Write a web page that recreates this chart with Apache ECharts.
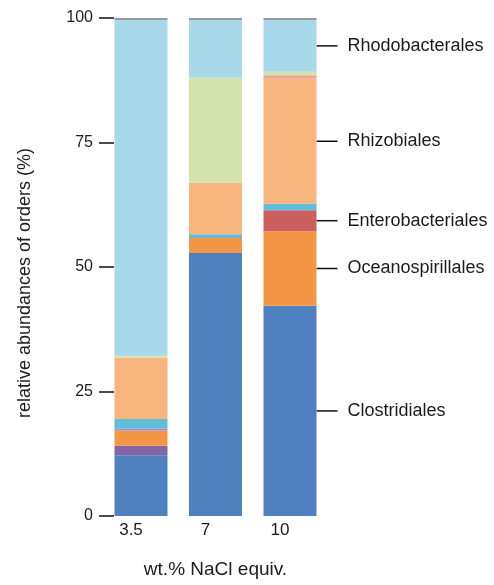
<!DOCTYPE html>
<html>
<head>
<meta charset="utf-8">
<script src="https://cdn.jsdelivr.net/npm/echarts@6/dist/echarts.min.js"></script>
<style>
  html, body { margin: 0; padding: 0; background: #ffffff; }
  #chart { width: 494px; height: 585px; }
</style>
</head>
<body>
<div id="chart"></div>
<script>
// Salinity groups (wt.% NaCl equiv.)
const salinity = ['3.5', '7', '10'];
const yTickValues = [0, 25, 50, 75, 100];

// Relative abundances (%) of bacterial orders, stacked bottom to top
const clostridiales     = [12.2, 52.8, 42.2];
const minorPurple       = [1.9, 0, 0];
const oceanospirillales = [3.0, 3.0, 15.0];
const enterobacteriales = [0, 0, 4.2];
const minorLavender     = [0.4, 0, 0];
const minorCyan         = [2.0, 0.8, 1.3];
const rhizobiales       = [12.3, 10.3, 25.1];
const minorSalmon       = [0, 0, 0.7];
const minorGreen        = [0.4, 21.1, 0.7];
const rhodobacterales   = [67.4, 11.6, 10.4];
const minorGrey         = [0.4, 0.4, 0.4];

const stackDefs = [
  { name: 'Clostridiales',     data: clostridiales,     color: '#4f80c0', labelled: true },
  { name: 'minor-1',           data: minorPurple,       color: '#8465a8', labelled: false },
  { name: 'Oceanospirillales', data: oceanospirillales, color: '#f59646', labelled: true },
  { name: 'Enterobacteriales', data: enterobacteriales, color: '#cb5e5e', labelled: true },
  { name: 'minor-2',           data: minorLavender,     color: '#a98cc8', labelled: false },
  { name: 'minor-3',           data: minorCyan,         color: '#62bdd8', labelled: false },
  { name: 'Rhizobiales',       data: rhizobiales,       color: '#f8b57d', labelled: true },
  { name: 'minor-4',           data: minorSalmon,       color: '#eea594', labelled: false },
  { name: 'minor-5',           data: minorGreen,        color: '#d3e3ad', labelled: false },
  { name: 'Rhodobacterales',   data: rhodobacterales,   color: '#a7d9ea', labelled: true },
  { name: 'minor-6',           data: minorGrey,         color: '#9a9a9a', labelled: false }
];

const FONT = '"Liberation Sans", Arial, Helvetica, sans-serif';
const TEXT = '#1c1c1c';
const BAR_W = 53;
const TICK_LEN = 15;
const labelIdx = salinity.length - 1;

const series = stackDefs.map(d => ({
  name: d.name,
  type: 'bar',
  stack: 'orders',
  barWidth: BAR_W,
  itemStyle: { color: d.color },
  emphasis: { disabled: true },
  data: d.data.map((v, i) => {
    if (d.labelled && i === labelIdx) {
      return {
        value: v,
        label: {
          show: true,
          position: 'right',
          distance: 31,
          formatter: d.name,
          fontFamily: FONT,
          fontSize: 18,
          color: TEXT
        }
      };
    }
    return v;
  })
}));

const chart = echarts.init(document.getElementById('chart'), null, { renderer: 'canvas' });

chart.setOption({
  animation: false,
  backgroundColor: '#ffffff',
  grid: { left: 103.75, right: 166.75, top: 18, bottom: 69, containLabel: false },
  xAxis: {
    type: 'category',
    data: salinity,
    axisLine: { show: false },
    axisTick: { show: false },
    axisLabel: {
      margin: 6,
      fontFamily: FONT,
      fontSize: 17,
      color: TEXT,
      padding: [0, 20, 0, 0]
    },
    name: 'wt.% NaCl equiv.',
    nameLocation: 'middle',
    nameGap: 44,
    nameTextStyle: { fontFamily: FONT, fontSize: 19, color: TEXT }
  },
  yAxis: {
    type: 'value',
    min: yTickValues[0],
    max: yTickValues[yTickValues.length - 1],
    interval: yTickValues[1] - yTickValues[0],
    offset: -10.25,
    axisLine: { show: false },
    axisTick: { show: true, length: TICK_LEN, lineStyle: { color: '#111', width: 1.5 } },
    splitLine: { show: false },
    axisLabel: { margin: TICK_LEN + 6, fontFamily: FONT, fontSize: 16, color: TEXT },
    name: 'relative abundances of orders (%)',
    nameLocation: 'middle',
    nameRotate: 90,
    nameGap: 80,
    nameTextStyle: { fontFamily: FONT, fontSize: 18, color: TEXT, padding: [0, 32, 0, 0] }
  },
  series: series
});

// Short leader lines from the last bar to each order label
const leaders = [];
let base = 0;
stackDefs.forEach(d => {
  const v = d.data[labelIdx];
  if (d.labelled) {
    const p = chart.convertToPixel({ gridIndex: 0 }, [labelIdx, base + v / 2]);
    const x0 = p[0] + BAR_W / 2;
    leaders.push({
      type: 'line',
      shape: { x1: x0, y1: p[1], x2: x0 + 21, y2: p[1] },
      style: { stroke: '#111', lineWidth: 1.5 },
      silent: true
    });
  }
  base += v;
});
chart.setOption({ graphic: leaders });
</script>
</body>
</html>
